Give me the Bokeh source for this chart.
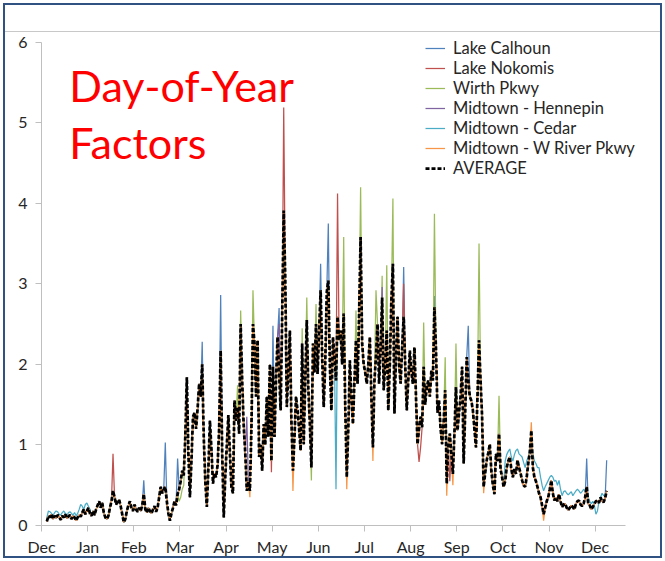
from bokeh.plotting import figure
from bokeh.models import (Range1d, FixedTicker, Legend, LegendItem, Label)
from bokeh.embed import file_html
from bokeh.resources import INLINE

# ---------------- data ----------------
months = ["Dec", "Jan", "Feb", "Mar", "Apr", "May", "Jun", "Jul", "Aug", "Sep", "Oct", "Nov", "Dec"]
y_ticks = [0, 1, 2, 3, 4, 5, 6]
days = list(range(1, 366))

average = [
    0.05, 0.12, 0.10, 0.14, 0.08, 0.12, 0.09, 0.13, 0.11, 0.07,
    0.12, 0.10, 0.14, 0.09, 0.11, 0.13, 0.08, 0.12, 0.10, 0.06,
    0.10, 0.13, 0.11, 0.16, 0.20, 0.14, 0.18, 0.22, 0.15, 0.12,
    0.18, 0.13, 0.20, 0.25, 0.30, 0.22, 0.28, 0.16, 0.10, 0.08,
    0.12, 0.22, 0.30, 0.43, 0.35, 0.26, 0.30, 0.32, 0.24, 0.14,
    0.04, 0.08, 0.18, 0.25, 0.30, 0.22, 0.18, 0.26, 0.20, 0.17,
    0.22, 0.18, 0.25, 0.39, 0.20, 0.16, 0.22, 0.18, 0.15, 0.20,
    0.24, 0.17, 0.22, 0.35, 0.48, 0.40, 0.45, 0.48, 0.30, 0.15,
    0.06, 0.15, 0.22, 0.30, 0.25, 0.39, 0.45, 0.55, 0.68, 0.62,
    1.10, 1.84, 0.90, 0.35, 0.80, 1.35, 1.40, 1.20, 1.45, 1.76,
    1.60, 2.00, 1.10, 0.55, 0.23, 0.70, 1.30, 0.95, 0.52, 0.65,
    0.60, 0.75, 1.20, 2.17, 0.90, 0.10, 0.60, 1.00, 1.37, 0.90,
    0.48, 0.40, 1.55, 1.30, 1.47, 1.14, 2.50, 1.80, 1.22, 0.90,
    0.43, 0.55, 0.43, 1.20, 2.50, 2.26, 1.60, 2.30, 0.85, 1.00,
    0.68, 1.26, 1.00, 1.60, 1.10, 2.00, 0.80, 1.97, 1.10, 1.80,
    2.34, 1.90, 1.43, 2.60, 3.91, 3.08, 1.47, 1.90, 2.42, 1.30,
    0.68, 1.10, 1.60, 1.43, 1.20, 0.93, 2.26, 1.01, 1.80, 2.55,
    1.70, 1.26, 0.72, 2.26, 1.90, 2.50, 1.88, 2.40, 2.92, 2.10,
    1.47, 2.00, 2.90, 3.04, 2.00, 1.43, 2.34, 2.10, 1.80, 2.59,
    2.30, 2.42, 2.00, 2.63, 1.50, 0.60, 1.20, 2.05, 1.60, 1.26,
    1.80, 2.30, 1.76, 2.60, 3.58, 2.26, 2.00, 1.90, 1.76, 2.00,
    2.34, 1.60, 0.97, 1.80, 2.10, 2.50, 1.76, 2.20, 2.83, 1.68,
    2.00, 2.42, 1.43, 2.00, 2.80, 3.25, 1.39, 2.10, 2.59, 2.00,
    1.76, 2.20, 2.59, 2.00, 1.43, 1.80, 2.17, 1.90, 1.76, 2.21,
    1.60, 1.01, 1.20, 1.35, 1.22, 1.97, 1.50, 1.72, 1.80, 1.60,
    1.92, 1.80, 2.71, 2.20, 1.40, 1.55, 1.20, 1.01, 1.30, 1.68,
    0.52, 1.00, 1.14, 0.90, 0.64, 1.14, 1.72, 1.18, 1.40, 1.60,
    1.97, 0.77, 1.40, 2.09, 1.80, 1.60, 1.55, 1.43, 1.20, 0.97,
    1.60, 2.30, 1.80, 1.35, 0.48, 0.65, 0.81, 0.90, 1.01, 0.68,
    0.50, 0.39, 0.89, 0.80, 1.14, 0.70, 0.60, 0.48, 0.55, 0.72,
    0.80, 0.85, 0.70, 0.60, 0.70, 0.64, 0.81, 0.72, 0.65, 0.56,
    0.50, 0.48, 0.60, 0.77, 0.90, 1.18, 0.72, 0.60, 0.55, 0.48,
    0.40, 0.35, 0.25, 0.14, 0.22, 0.30, 0.35, 0.45, 0.56, 0.40,
    0.31, 0.35, 0.30, 0.39, 0.30, 0.23, 0.26, 0.27, 0.22, 0.19,
    0.22, 0.25, 0.23, 0.20, 0.27, 0.30, 0.31, 0.26, 0.24, 0.27,
    0.35, 0.48, 0.27, 0.25, 0.20, 0.23, 0.27, 0.30, 0.31, 0.28,
    0.35, 0.30, 0.29, 0.34, 0.43,
]

# days on which a station's factor departs visibly from the average (day: value)
calhoun_diff = {64: 0.56, 78: 1.03, 86: 0.83, 102: 2.28, 114: 2.86, 148: 2.48, 152: 2.70,
                179: 3.25, 184: 3.75, 233: 3.21, 253: 2.85, 275: 2.48, 352: 0.83, 365: 0.81}
nokomis_diff = {44: 0.89, 147: 0.66, 155: 5.19, 190: 4.12, 233: 3.00, 243: 0.79, 244: 0.97, 263: 0.55}
wirth_diff = {87: 0.30, 88: 0.35, 89: 0.45, 90: 0.50, 125: 1.74, 127: 2.67, 135: 2.92, 167: 2.45,
              170: 2.83, 173: 0.56, 176: 2.75, 194: 3.58, 202: 2.67, 205: 4.20, 215: 2.92, 219: 3.10,
              222: 3.23, 226: 4.06, 246: 2.52, 253: 3.87, 260: 2.09, 267: 2.26, 282: 3.50, 295: 1.61}
hennepin_diff = {131: 1.35, 152: 2.50, 219: 2.96}
cedar_early = [0.10, 0.18, 0.17, 0.15, 0.12, 0.16, 0.18, 0.17, 0.14, 0.13,
               0.16, 0.18, 0.15, 0.12, 0.16, 0.17, 0.15, 0.13, 0.16, 0.12,
               0.15, 0.20, 0.26, 0.24, 0.20, 0.26, 0.28, 0.24, 0.20]
cedar_mid = {189: 0.45}
cedar_late = [0.80, 0.88,
              0.92, 0.95, 0.85, 0.80, 0.88, 0.93, 0.95, 0.89, 0.87, 0.85,
              0.78, 0.72, 0.80, 0.85, 0.95, 1.10, 0.90, 0.80, 0.77, 0.72,
              0.72, 0.60, 0.50, 0.43, 0.48, 0.52, 0.56, 0.60, 0.62, 0.60,
              0.55, 0.56, 0.50, 0.56, 0.45, 0.37, 0.42, 0.43, 0.40, 0.38,
              0.40, 0.42, 0.37, 0.40, 0.43, 0.45, 0.43, 0.40, 0.42, 0.45,
              0.43, 0.39, 0.35, 0.30, 0.27, 0.30, 0.25, 0.14, 0.18, 0.30,
              0.35, 0.40, 0.37, 0.38, 0.40]
wriver_diff = {133: 0.35, 161: 0.43, 196: 0.45, 213: 0.80, 261: 0.37, 265: 0.50, 285: 0.40,
               316: 1.28, 324: 0.06}

cedar_diff = dict(cedar_mid)
cedar_diff.update(zip(days[:len(cedar_early)], cedar_early))
cedar_diff.update(zip(days[-len(cedar_late):], cedar_late))


def station(diff):
    return [diff.get(d, a) for d, a in zip(days, average)]


series = [
    ("Lake Calhoun", station(calhoun_diff), "#4F81BD"),
    ("Lake Nokomis", station(nokomis_diff), "#C0504D"),
    ("Wirth Pkwy", station(wirth_diff), "#9BBB59"),
    ("Midtown - Hennepin", station(hennepin_diff), "#8064A2"),
    ("Midtown - Cedar", station(cedar_diff), "#4BACC6"),
    ("Midtown - W River Pkwy", station(wriver_diff), "#F79646"),
]

# ---------------- figure ----------------
FONT = "Lato"
TXT = "#262626"
GRAY = "#BFBFBF"

frame_css = {
    "outline": "2px solid #2F5283",
    "outline-offset": "-5px",
    "background": ("linear-gradient(#C8C8C8, #C8C8C8) 5px 31px / 657px 1px no-repeat, "
                   "linear-gradient(#C8C8C8, #C8C8C8) 661px 31px / 1px 526px no-repeat, white"),
}

p = figure(width=665, height=561, output_backend="svg", toolbar_location=None,
           x_range=Range1d(-2.5, 401.3), y_range=Range1d(0, 6.207),
           min_border_left=41, min_border_right=3, min_border_top=25, min_border_bottom=36,
           background_fill_color=None, border_fill_color=None, outline_line_color=None,
           styles=frame_css)
p.xgrid.visible = False
p.ygrid.visible = False

month_ticks = [-2.5 + 30 * i for i in range(len(months))]
p.xaxis.ticker = FixedTicker(ticks=month_ticks)
p.xaxis.major_label_overrides = {t: m for t, m in zip(month_ticks, months)}
p.xaxis.bounds = (-2.5, 377.3)
p.yaxis.ticker = FixedTicker(ticks=y_ticks)
p.yaxis.bounds = (0, 6)

for ax in (p.xaxis[0], p.yaxis[0]):
    ax.axis_line_color = GRAY
    ax.major_tick_line_color = GRAY
    ax.minor_tick_line_color = None
    ax.major_tick_out = 6
    ax.major_tick_in = 0
    ax.major_label_text_font = FONT
    ax.major_label_text_font_size = "16px"
    ax.major_label_text_color = TXT
p.xaxis.major_label_standoff = 5
p.yaxis.major_label_standoff = 8

items = []
for name, vals, col in series:
    r = p.line(days, vals, line_color=col, line_width=1.25)
    items.append(LegendItem(label=name, renderers=[r]))
ra = p.line(days, average, line_color="black", line_width=2.75, line_dash="4 2")
items.append(LegendItem(label="AVERAGE", renderers=[ra]))

legend = Legend(items=items, location=(384, 347), padding=0, margin=0, spacing=0,
                label_height=20, glyph_height=20, glyph_width=20, label_standoff=8,
                border_line_color=None, background_fill_color="white", background_fill_alpha=1,
                label_text_font=FONT, label_text_font_size="16.5px", label_text_color=TXT)
p.add_layout(legend)

for txt, yy in (("Day-of-Year", 5.46), ("Factors", 4.75)):
    p.add_layout(Label(x=15.6, y=yy, text=txt, text_color="#FF0000", text_font=FONT,
                       text_font_size="43px", text_baseline="alphabetic", text_align="left"))

open("out.html", "w").write(file_html(p, INLINE))
